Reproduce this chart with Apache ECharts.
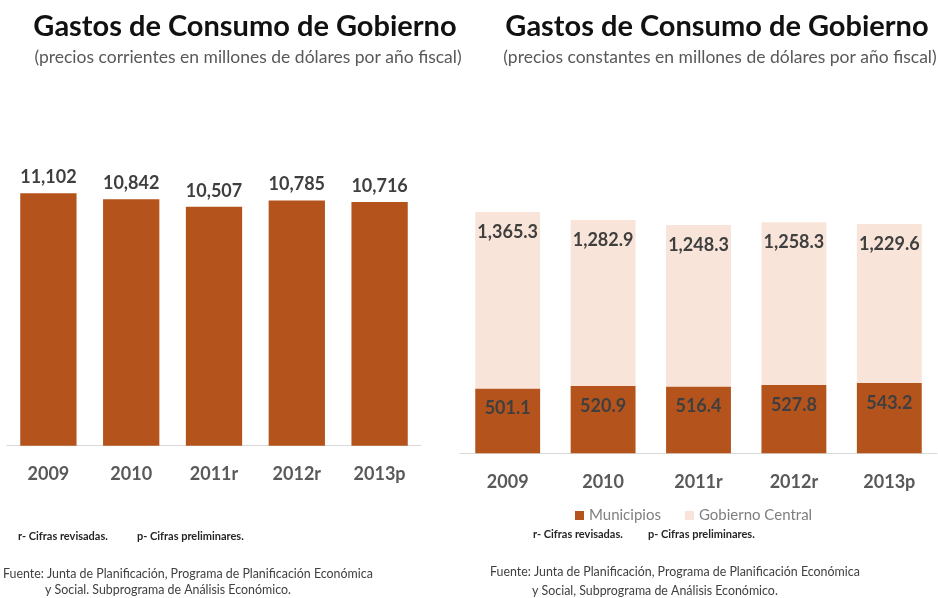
<!DOCTYPE html>
<html>
<head>
<meta charset="utf-8">
<script src="https://cdn.jsdelivr.net/npm/echarts@6/dist/echarts.min.js"></script>
<style>
  html, body { margin: 0; padding: 0; background: #fff; }
  #chart { width: 938px; height: 598px; }
</style>
</head>
<body>
<div id="chart"></div>
<script>
const categories = ['2009', '2010', '2011r', '2012r', '2013p'];
// precios corrientes
const corrientes = [11102, 10842, 10507, 10785, 10716];
// precios constantes
const municipios = [501.1, 520.9, 516.4, 527.8, 543.2];
const gobiernoCentral = [1365.3, 1282.9, 1248.3, 1258.3, 1229.6];

const FONT = 'Lato, "Open Sans", sans-serif';
const DARK = '#3f3f3f';
const BROWN = '#b5531c';
const PEACH = '#f8e4d8';

const fmt0 = v => v.toLocaleString('en-US');
const fmt1 = v => v.toLocaleString('en-US', {minimumFractionDigits: 1, maximumFractionDigits: 1});

const chart = echarts.init(document.getElementById('chart'));

const barLabel = {
  show: true,
  fontFamily: FONT,
  fontWeight: 'bold',
  fontSize: 18,
  color: DARK
};

const xAxisBase = {
  type: 'category',
  data: categories,
  axisTick: {show: false},
  axisLine: {lineStyle: {color: '#d9d9d9', width: 1}},
  axisLabel: {fontFamily: FONT, fontWeight: 'bold', fontSize: 18, color: '#595959', margin: 19}
};

const noteStyle = {fontFamily: FONT, fontSize: 11, fontWeight: 'bold', fill: '#262626'};
const srcStyle = {fontFamily: FONT, fontSize: 12.4, fill: '#404040'};

chart.setOption({
  animation: false,
  title: [
    {text: 'Gastos de Consumo de Gobierno', left: 240, top: 7, textAlign: 'center',
      textStyle: {fontFamily: FONT, fontWeight: 'bold', fontSize: 29, color: '#111'}},
    {text: '(precios corrientes en millones de dólares por año fiscal)', left: 243, top: 43, textAlign: 'center',
      textStyle: {fontFamily: FONT, fontWeight: 'normal', fontSize: 17.5, color: '#595959'}},
    {text: 'Gastos de Consumo de Gobierno', left: 712, top: 7, textAlign: 'center',
      textStyle: {fontFamily: FONT, fontWeight: 'bold', fontSize: 29, color: '#111'}},
    {text: '(precios constantes en millones de dólares por año fiscal)', left: 715, top: 43, textAlign: 'center',
      textStyle: {fontFamily: FONT, fontWeight: 'normal', fontSize: 17.5, color: '#595959'}}
  ],
  legend: {
    data: ['Municipios', 'Gobierno Central'],
    left: 570,
    top: 503,
    itemWidth: 9,
    itemHeight: 9,
    itemGap: 24,
    icon: 'rect',
    textStyle: {fontFamily: FONT, fontSize: 15, color: '#7f7f7f'}
  },
  grid: [
    {left: 7, width: 414, top: 172.9, bottom: 152.3},
    {left: 460, width: 477, top: 194.7, bottom: 144.7}
  ],
  xAxis: [
    Object.assign({gridIndex: 0}, xAxisBase),
    Object.assign({gridIndex: 1}, xAxisBase, {axisLabel: Object.assign({}, xAxisBase.axisLabel, {margin: 20})})
  ],
  yAxis: [
    {gridIndex: 0, type: 'value', min: 0, max: 12000, show: false, splitLine: {show: false}},
    {gridIndex: 1, type: 'value', min: 0, max: 2000, show: false, splitLine: {show: false}}
  ],
  series: [
    {
      name: 'Corrientes', type: 'bar', xAxisIndex: 0, yAxisIndex: 0,
      data: corrientes, barWidth: '68%',
      itemStyle: {color: BROWN},
      label: Object.assign({}, barLabel, {position: 'top', distance: 7, formatter: p => fmt0(p.value)})
    },
    {
      name: 'Municipios', type: 'bar', stack: 'c', xAxisIndex: 1, yAxisIndex: 1,
      data: municipios, barWidth: '68%',
      itemStyle: {color: BROWN},
      label: Object.assign({}, barLabel, {position: 'insideTop', distance: 11, formatter: p => fmt1(p.value)})
    },
    {
      name: 'Gobierno Central', type: 'bar', stack: 'c', xAxisIndex: 1, yAxisIndex: 1,
      data: gobiernoCentral, barWidth: '68%',
      itemStyle: {color: PEACH},
      label: Object.assign({}, barLabel, {position: 'insideTop', distance: 11, formatter: p => fmt1(p.value)})
    }
  ],
  graphic: [
    {type: 'text', left: 18, top: 531, style: Object.assign({text: 'r- Cifras revisadas.'}, noteStyle)},
    {type: 'text', left: 137, top: 531, style: Object.assign({text: 'p- Cifras preliminares.'}, noteStyle)},
    {type: 'text', left: 3, top: 568, style: Object.assign({text: 'Fuente: Junta de Planificación, Programa de Planificación Económica'}, srcStyle)},
    {type: 'text', left: 45, top: 584, style: Object.assign({text: 'y Social. Subprograma de Análisis Económico.'}, srcStyle)},
    {type: 'text', left: 533, top: 529, style: Object.assign({text: 'r- Cifras revisadas.'}, noteStyle)},
    {type: 'text', left: 648, top: 529, style: Object.assign({text: 'p- Cifras preliminares.'}, noteStyle)},
    {type: 'text', left: 490, top: 566, style: Object.assign({text: 'Fuente: Junta de Planificación, Programa de Planificación Económica'}, srcStyle)},
    {type: 'text', left: 532, top: 585, style: Object.assign({text: 'y Social, Subprograma de Análisis Económico.'}, srcStyle)}
  ]
});
</script>
</body>
</html>
